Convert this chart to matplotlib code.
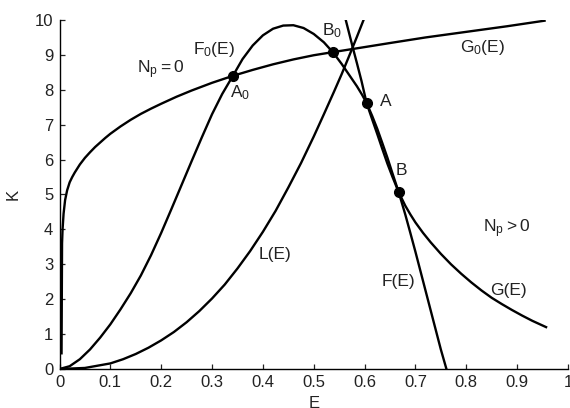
import numpy as np
import matplotlib
matplotlib.use('Agg')
import matplotlib.pyplot as plt

plt.rcParams['font.family'] = ['Liberation Sans', 'DejaVu Sans']
plt.rcParams['mathtext.fontset'] = 'custom'
plt.rcParams['mathtext.rm'] = 'Liberation Sans'

# G0(E), N_p = 0
g0_e = [0.004, 0.005, 0.006, 0.008, 0.011, 0.015, 0.02, 0.025, 0.03, 0.04, 0.05, 0.06, 0.07,
        0.08, 0.09, 0.10, 0.12, 0.14, 0.16, 0.18, 0.20, 0.23, 0.26, 0.30, 0.341, 0.38, 0.42,
        0.46, 0.50, 0.538, 0.59, 0.65, 0.72, 0.80, 0.88, 0.954]
g0_k = [0.45, 3.6, 4.0, 4.45, 4.84, 5.12, 5.35, 5.5, 5.63, 5.86, 6.05, 6.21, 6.36,
        6.49, 6.62, 6.74, 6.95, 7.14, 7.31, 7.46, 7.60, 7.80, 7.98, 8.20, 8.40, 8.57, 8.73,
        8.87, 8.99, 9.08, 9.20, 9.34, 9.50, 9.66, 9.82, 9.98]

# F0(E) up to A
f0_e = [0.0, 0.02, 0.04, 0.06, 0.08, 0.10, 0.12, 0.14, 0.16, 0.18, 0.20, 0.22, 0.24, 0.26,
        0.28, 0.30, 0.32, 0.341, 0.36, 0.38, 0.40, 0.42, 0.44, 0.46, 0.48, 0.50, 0.52,
        0.538, 0.555, 0.57, 0.585, 0.595, 0.604]
f0_k = [0.0, 0.08, 0.28, 0.56, 0.9, 1.28, 1.71, 2.17, 2.68, 3.26, 3.9, 4.58, 5.27, 5.96,
        6.64, 7.3, 7.88, 8.40, 8.88, 9.27, 9.56, 9.75, 9.84, 9.85, 9.77, 9.6, 9.36,
        9.07, 8.74, 8.42, 8.1, 7.86, 7.62]

# F(E), from A through B down to zero
f_e = [0.604, 0.615, 0.625, 0.635, 0.645, 0.655, 0.667, 0.68, 0.69, 0.70, 0.71, 0.72,
       0.73, 0.74, 0.75, 0.761]
f_k = [7.62, 7.25, 6.88, 6.47, 6.05, 5.6, 5.07, 4.43, 3.9, 3.36, 2.8, 2.24,
       1.68, 1.12, 0.56, 0.0]

# G(E), N_p > 0
g_e = [0.563, 0.57, 0.577, 0.585, 0.594, 0.604, 0.615, 0.625, 0.635, 0.645, 0.655, 0.667,
       0.68, 0.69, 0.70, 0.715, 0.73, 0.75, 0.77, 0.79, 0.81, 0.83, 0.85, 0.87, 0.89,
       0.91, 0.93, 0.957]
g_k = [10.0, 9.6, 9.2, 8.76, 8.25, 7.62, 7.15, 6.73, 6.3, 5.88, 5.5, 5.07,
       4.68, 4.43, 4.2, 3.9, 3.63, 3.3, 3.0, 2.73, 2.48, 2.25, 2.04, 1.86, 1.69,
       1.53, 1.38, 1.2]

# L(E)
l_e = [0.0, 0.05, 0.1, 0.125, 0.15, 0.175, 0.2, 0.225, 0.25, 0.275, 0.3, 0.325, 0.35,
       0.375, 0.4, 0.425, 0.45, 0.475, 0.5, 0.52, 0.54, 0.555, 0.57, 0.585, 0.598]
l_k = [0.0, 0.03, 0.16, 0.28, 0.43, 0.61, 0.82, 1.06, 1.34, 1.66, 2.02, 2.42, 2.88,
       3.38, 3.93, 4.53, 5.2, 5.9, 6.66, 7.3, 7.95, 8.45, 8.98, 9.52, 10.0]

# equilibrium points
pt_e = [0.341, 0.538, 0.604, 0.667]
pt_k = [8.40, 9.07, 7.62, 5.07]

# curve and point labels (left edge, baseline)
lab_txt = [r'$\mathregular{N_p = 0}$', r'$\mathregular{F_0(E)}$', r'$\mathregular{A_0}$',
           r'$\mathregular{B_0}$', r'$\mathregular{G_0(E)}$', 'A', 'B',
           r'$\mathregular{N_p > 0}$', 'F(E)', 'G(E)', 'L(E)']
lab_e = [0.152, 0.263, 0.335, 0.517, 0.788, 0.631, 0.661, 0.833, 0.633, 0.847, 0.392]
lab_k = [8.47, 9.03, 7.78, 9.57, 9.09, 7.54, 5.56, 3.92, 2.38, 2.12, 3.14]

fig = plt.figure(figsize=(5.7, 4.08), dpi=100)
ax = fig.add_axes([0.1044, 0.0956, 0.892, 0.8554])

lw = 1.7
for xs, ys in [(g0_e, g0_k), (f0_e, f0_k), (f_e, f_k), (g_e, g_k), (l_e, l_k)]:
    ax.plot(xs, ys, color='black', lw=lw, solid_joinstyle='round')
ax.plot(pt_e, pt_k, 'o', color='black', ms=7, zorder=5)

fs = 12.5
for t, x, y in zip(lab_txt, lab_e, lab_k):
    ax.text(x, y, t, fontsize=fs, ha='left', va='baseline', color='#222222')

ax.set_xlim(0, 1)
ax.set_ylim(0, 10)
ax.set_xticks(np.arange(0, 1.01, 0.1))
ax.set_xticklabels(['0', '0.1', '0.2', '0.3', '0.4', '0.5', '0.6', '0.7', '0.8', '0.9', '1'])
ax.set_yticks(range(0, 11))
ax.spines['top'].set_visible(False)
ax.spines['right'].set_visible(False)
for s in ['left', 'bottom']:
    ax.spines[s].set_linewidth(1.0)
ax.tick_params(direction='in', length=3.5, width=0.9, labelsize=12, pad=4.5, colors='#222222')
ax.set_xlabel('E', fontsize=12, labelpad=4, color='#222222')
ax.set_ylabel('K', fontsize=12, labelpad=10, color='#222222')

fig.savefig('out.png', dpi=100)
